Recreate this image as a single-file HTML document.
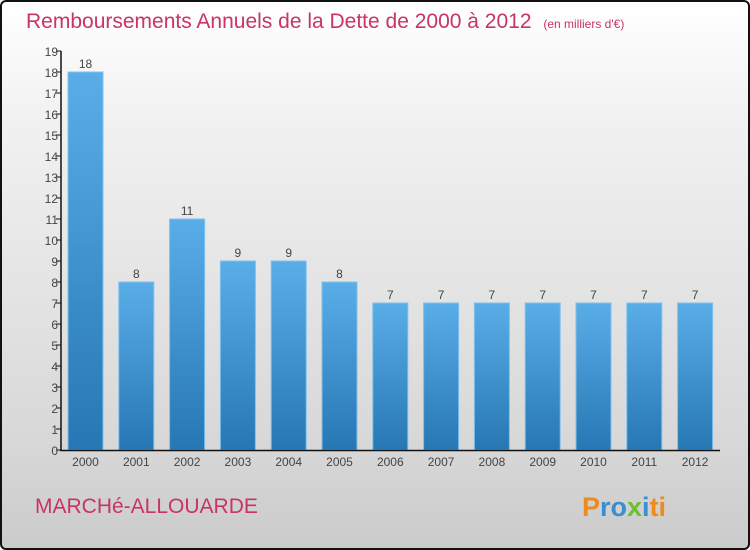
<!DOCTYPE html>
<html><head><meta charset="utf-8"><style>
body{margin:0;width:750px;height:550px;overflow:hidden;font-family:"Liberation Sans",sans-serif}
#wrap{position:absolute;left:0;top:0;width:746px;height:546px;border:2px solid #111;border-radius:6px;background:linear-gradient(#fff,#f2f2f2 20%,#d8d8d8 80%,#cbcbcb)}
</style></head><body>
<div id="wrap">
<svg id="s" width="746" height="546" style="position:absolute;left:-2px;top:-2px;overflow:visible">
<defs><linearGradient id="g" x1="0" y1="0" x2="0" y2="1"><stop offset="0" stop-color="#5aaee8"/><stop offset="1" stop-color="#2677b3"/></linearGradient></defs>
<text x="26" y="28" font-size="21" fill="#c8336a">Remboursements Annuels de la Dette de 2000 à 2012 <tspan font-size="12" dx="6">(en milliers d'€)</tspan></text>
<text x="35" y="513" font-size="21" fill="#c8336a">MARCHé-ALLOUARDE</text>
<text x="582" y="516" font-size="27" font-weight="bold" fill="#3a8fd0"><tspan fill="#f08a1c">P</tspan><tspan fill="#3a8fd0">ro</tspan><tspan fill="#6cbf2e">x</tspan><tspan fill="#3a8fd0">i</tspan><tspan fill="#f08a1c">ti</tspan></text>
<g id="plot"></g>
</svg></div>
<script>
const years=["2000","2001","2002","2003","2004","2005","2006","2007","2008","2009","2010","2011","2012"];
const values=[18,8,11,9,9,8,7,7,7,7,7,7,7];
const yTicks=[0,1,2,3,4,5,6,7,8,9,10,11,12,13,14,15,16,17,18,19];
const ns="http://www.w3.org/2000/svg",p=document.getElementById('plot');
const y=v=>450-v*21, x=i=>68+i*50.8;
function mk(t,a,txt){const e=document.createElementNS(ns,t);for(const k in a)e.setAttribute(k,a[k]);if(txt!=null)e.textContent=txt;p.appendChild(e);return e;}
yTicks.forEach(v=>{
 const l=mk('line',{x1:56,x2:61,y1:y(v),y2:y(v),stroke:'#111'});
 
 
 const t=mk('text',{x:58,y:y(v)+5,'font-size':12,fill:'#444','text-anchor':'end'},v);
 
 
});
values.forEach((v,i)=>{
 const r=mk('rect',{x:x(i),y:y(v),width:35,height:v*21,fill:'url(#g)',stroke:'#7fc0ee','stroke-width':1});
 
 
 const t=mk('text',{x:x(i)+17.5,y:y(v)-4,'font-size':12,fill:'#444','text-anchor':'middle'},v);
 
 
 const c=mk('text',{x:x(i)+17.5,y:466,'font-size':12,fill:'#444','text-anchor':'middle'},years[i]);
 
 
});
const ya=mk('line',{x1:61,x2:61,y1:y(19),y2:451,stroke:'#111','stroke-width':1.5});


const xa=mk('line',{x1:60,x2:720,y1:450.5,y2:450.5,stroke:'#111','stroke-width':1.5});


</script>
</body></html>
